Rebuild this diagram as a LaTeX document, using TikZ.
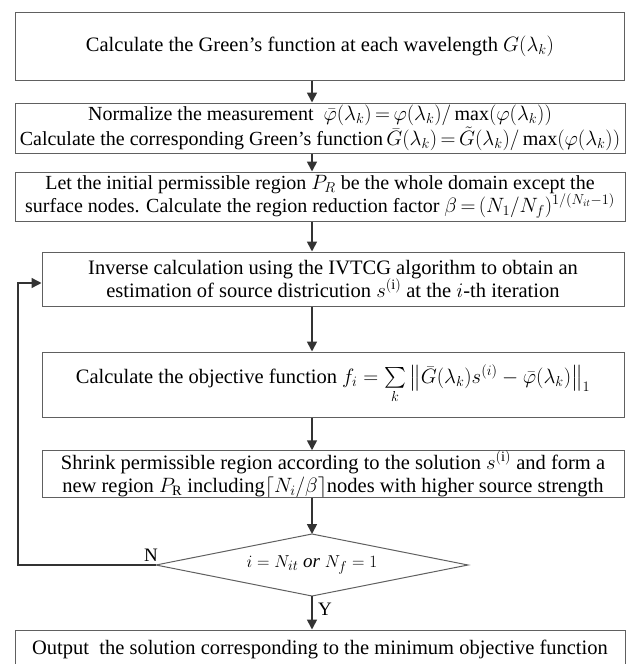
\documentclass[tikz,border=0pt]{standalone}
\usepackage{amsmath}
\usepackage{fontspec}
\setmainfont{Liberation Serif}
\usetikzlibrary{arrows.meta}
\definecolor{boxgray}{HTML}{606060}
\definecolor{arrdark}{HTML}{333333}
\newcommand\mytightmath{\thickmuskip=3mu plus 2mu\relax\medmuskip=2mu plus 1mu\relax}
\begin{document}
\begin{tikzpicture}[x=1pt,y=-1pt,
  box/.style={draw=boxgray,line width=1pt,rectangle,inner sep=0pt,align=center,
    font=\fontsize{20.5}{23}\selectfont},
  tight/.style={font={\fontsize{20}{23}\selectfont\mytightmath}},
  arr/.style={draw=arrdark,line width=1.7pt,-{Triangle[length=10pt,width=10pt]}},
  lbl/.style={font=\fontsize{19}{20}\selectfont,inner sep=0pt}]
\useasboundingbox (0,0) rectangle (628,664);
\node[box,minimum width=609pt,minimum height=68pt] (b1) at (320,46)
  {Calculate the Green's function at each wavelength $G(\lambda_k)$};
\node[box,tight,minimum width=610pt,minimum height=50pt] (b2) at (320,128)
  {Normalize the measurement \ $\bar\varphi(\lambda_k)=\varphi(\lambda_k)/\max(\varphi(\lambda_k))$\\
   Calculate the corresponding Green's function\,$\bar G(\lambda_k)=\tilde G(\lambda_k)/\max(\varphi(\lambda_k))$};
\node[box,tight,minimum width=610pt,minimum height=49pt] (b3) at (320,196.5)
  {Let the initial permissible region $P_R$ be the whole domain except the\\
   surface nodes. Calculate the region reduction factor $\beta=(N_1/N_f)^{1/(N_{it}-1)}$};
\node[box,minimum width=582pt,minimum height=54pt] (b4) at (333,279)
  {Inverse calculation using the IVTCG algorithm to obtain an\\
   estimation of source districution $s^{(\mathrm{i})}$ at the $i$-th iteration};
\node[box,minimum width=582pt,minimum height=65pt] (b5) at (333,384.5)
  {Calculate the objective function $f_i=\sum\limits_k\left\|\bar G(\lambda_k)s^{(i)}-\bar\varphi(\lambda_k)\right\|_1$};
\node[box,minimum width=582pt,minimum height=46pt] (b6) at (333,474)
  {Shrink permissible region according to the solution $s^{(\mathrm{i})}$ and form a\\
   new region $P_{\mathrm{R}}$ including$\left\lceil N_i/\beta\right\rceil$nodes with higher source strength};
\coordinate (dT) at (312,534);
\coordinate (dB) at (312,596);
\coordinate (dL) at (156,565);
\coordinate (dR) at (468,565);
\draw[boxgray,line width=1pt] (dT) -- (dR) -- (dB) -- (dL) -- cycle;
\node[lbl] (dia) at (312,565) {$i=N_{it}$ \textit{or} $N_f=1$};
\node[box,minimum width=610pt,minimum height=38pt] (b7) at (320,649)
  {Output\ \ the solution corresponding to the minimum objective function};
\coordinate (fbx) at (18,565);
\coordinate (fby) at (18,283);
\draw[arr] (b1.south -| dT) -- (b2.north -| dT);
\draw[arr] (b2.south -| dT) -- (b3.north -| dT);
\draw[arr] (b3.south -| dT) -- (b4.north -| dT);
\draw[arr] (b4.south -| dT) -- (b5.north -| dT);
\draw[arr] (b5.south -| dT) -- (b6.north -| dT);
\draw[arr] (b6.south -| dT) -- (dT);
\draw[arr] (dB) -- (b7.north -| dT);
\draw[arr,line width=1.4pt] (dL) -- (fbx) -- (fby) -- (b4.west |- fby);
\node[lbl,anchor=south] (nl) at (151,562) {N};
\node[lbl,anchor=west] (yl) at (318,609) {Y};
\end{tikzpicture}
\end{document}
